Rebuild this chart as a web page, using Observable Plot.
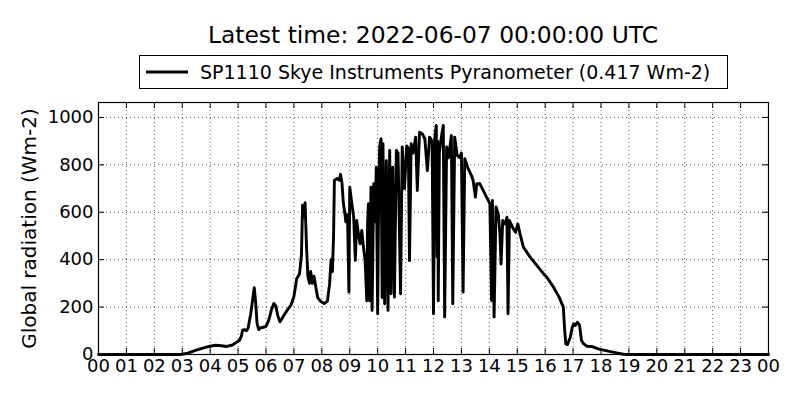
<!DOCTYPE html>
<html>
<head>
<meta charset="utf-8">
<script src="https://cdn.jsdelivr.net/npm/d3@7"></script>
<script src="https://cdn.jsdelivr.net/npm/@observablehq/plot@0.6"></script>
<style>
  body { margin: 0; background: #fff; font-family: "DejaVu Sans", sans-serif; color: #000; }
  #head { position: relative; width: 800px; height: 97px; }
  #title { position: absolute; left: 98px; width: 670px; top: 21px; text-align: center; font-size: 23.4px; line-height: 28px; white-space: nowrap; }
  #legend { position: absolute; left: 139px; top: 55px; width: 589px; height: 34px; border: 1px solid #000; box-sizing: border-box; }
  #legend svg { position: absolute; left: 6px; top: 14px; }
  #legend span { position: absolute; left: 60px; top: 5px; font-size: 19px; line-height: 23px; white-space: nowrap; }
</style>
</head>
<body>
<div id="head">
  <div id="title"></div>
  <div id="legend"><svg width="44" height="4"><line x1="0" y1="2" x2="42" y2="2" stroke="#000" stroke-width="3"></line></svg><span id="legtext"></span></div>
</div>
<div id="chart"></div>
<script>
const titleText = "Latest time: 2022-06-07 00:00:00 UTC";
const seriesName = "SP1110 Skye Instruments Pyranometer (0.417 Wm-2)";
const yLabel = "Global radiation (Wm-2)";

const hours = [
  0, 1, 2, 2.9, 3.0, 3.2, 3.5, 3.8, 4.0, 4.2, 4.4, 4.6, 4.8, 4.95, 5.05, 5.12, 5.16, 5.22, 5.3, 5.36,
  5.45, 5.52, 5.58, 5.63, 5.68, 5.74, 5.8, 5.9, 6.0, 6.1, 6.2, 6.28, 6.35, 6.42, 6.5, 6.6, 6.75, 6.9,
  7.0, 7.1, 7.2, 7.27, 7.31, 7.36, 7.4, 7.45, 7.5, 7.56, 7.6, 7.66, 7.72, 7.78, 7.85, 7.95, 8.08, 8.2,
  8.28, 8.33, 8.38, 8.42, 8.45, 8.55, 8.62, 8.67, 8.72, 8.77, 8.82, 8.86, 8.92, 8.97,
  9.0, 9.09, 9.14, 9.2, 9.25, 9.31, 9.37, 9.43, 9.49, 9.55, 9.61, 9.64, 9.67, 9.71, 9.76, 9.8,
  9.86, 9.9, 9.95, 10.0, 10.04, 10.07, 10.12, 10.16, 10.19, 10.25, 10.31, 10.37, 10.43, 10.48,
  10.54, 10.6, 10.67, 10.73, 10.82, 10.88, 10.96, 11.04, 11.1, 11.14, 11.2, 11.27, 11.36, 11.42,
  11.5, 11.6, 11.69, 11.78, 11.86, 11.95, 12.0, 12.05, 12.1, 12.13, 12.15, 12.17, 12.21, 12.28,
  12.35, 12.4, 12.47, 12.54, 12.64, 12.69, 12.76, 12.85, 12.94, 13.0, 13.06, 13.12, 13.24, 13.36,
  13.42, 13.5, 13.55, 13.66, 13.78, 13.9, 14.02, 14.08,
  14.11, 14.17, 14.24, 14.32, 14.38, 14.42, 14.48, 14.57, 14.63, 14.67, 14.72, 14.86, 14.94, 15.02,
  15.1, 15.22, 15.46, 15.7, 15.94, 16.06, 16.3, 16.5, 16.65, 16.7, 16.74, 16.8, 16.9, 16.97, 17.03,
  17.08, 17.15, 17.23, 17.3, 17.38, 17.5, 17.66, 17.9, 18.26, 18.6, 18.8, 19.0, 20, 21, 22, 23, 24
];
const radiation = [
  0, 0, 0, 0, 1, 6, 18, 29, 35, 39, 37, 34, 40, 52, 60, 78, 103, 105, 100, 112,
  170, 230, 282, 220, 130, 105, 112, 115, 118, 145, 190, 215, 205, 165, 138, 157, 185, 210,
  245, 320, 340, 420, 630, 580, 640, 460, 330, 300, 350, 300, 330, 288, 240, 225, 215, 225,
  300, 400, 350, 500, 735, 742, 735, 760, 725, 640, 600, 560, 590, 263,
  706, 622, 580, 397, 565, 509, 467, 523, 453, 397, 227, 560, 636, 227, 706, 186,
  720, 560, 790, 172, 700, 875, 910, 240, 889, 214, 818, 186, 861, 256,
  790, 242, 861, 850, 256, 875, 700, 880, 870, 396, 889, 850, 917, 692,
  938, 930, 910, 776, 917, 900, 172, 917, 966, 411, 900, 227, 850, 917,
  966, 158, 875, 830, 924, 214, 917, 840, 830, 850, 263, 826, 784, 755,
  734, 664, 720, 720, 692, 664, 636, 228,
  650, 158, 622, 593, 509, 382, 565, 551, 579, 172, 565, 530, 516, 551,
  509, 453, 411, 376, 341, 326, 284, 242, 200, 101, 45, 42, 73, 115, 129,
  122, 136, 125, 59, 45, 35, 34, 24, 14, 6, 1, 0, 0, 0, 0, 0, 0
];
const xTicks = d3.range(0, 25);
const xTickLabels = xTicks.map(h => String(h % 24).padStart(2, "0"));
const yTicks = [0, 200, 400, 600, 800, 1000];
const yMax = 1063;

document.getElementById("title").textContent = titleText;
document.getElementById("legtext").textContent = seriesName;

const data = hours.map((h, i) => ({h, v: radiation[i]}));

const W = 800, H = 303, mt = 5, mb = 46, ml = 98, mr = 32;
const fw = W - ml - mr, fh = H - mt - mb;
const tickLen = 6;

const chart = Plot.plot({
  width: W, height: H,
  marginTop: mt, marginBottom: mb, marginLeft: ml, marginRight: mr,
  style: {fontFamily: "DejaVu Sans", fontSize: "18px", color: "#000", background: "#fff", overflow: "visible"},
  x: {domain: [0, 24]},
  y: {domain: [0, yMax]},
  marks: [
    Plot.gridX(xTicks, {stroke: "#000", strokeOpacity: 0.85, strokeWidth: 0.8, strokeDasharray: "1,3"}),
    Plot.gridY(yTicks, {stroke: "#000", strokeOpacity: 0.85, strokeWidth: 0.8, strokeDasharray: "1,3"}),
    Plot.line(data, {x: "h", y: "v", stroke: "#000", strokeWidth: 2.9, strokeLinejoin: "round", strokeLinecap: "round"}),
    Plot.tickX(xTicks, {x: d => d, stroke: "#000", insetTop: fh - tickLen}),
    Plot.tickX(xTicks, {x: d => d, stroke: "#000", insetBottom: fh - tickLen}),
    Plot.tickY(yTicks, {y: d => d, stroke: "#000", insetRight: fw - tickLen}),
    Plot.tickY(yTicks, {y: d => d, stroke: "#000", insetLeft: fw - tickLen}),
    Plot.frame({stroke: "#000", strokeWidth: 1.2}),
    Plot.axisX(xTicks, {tickSize: 0, tickPadding: 5, tickFormat: d => xTickLabels[d], label: null, fontSize: 18}),
    Plot.axisY(yTicks, {tickSize: 0, tickPadding: 5, tickFormat: d => String(d), label: null, fontSize: 18}),
    Plot.text([yLabel], {text: d => d, frameAnchor: "left", textAnchor: "middle", rotate: -90, dx: -69, fontSize: 20})
  ]
});
document.getElementById("chart").appendChild(chart);
</script>
</body>
</html>
